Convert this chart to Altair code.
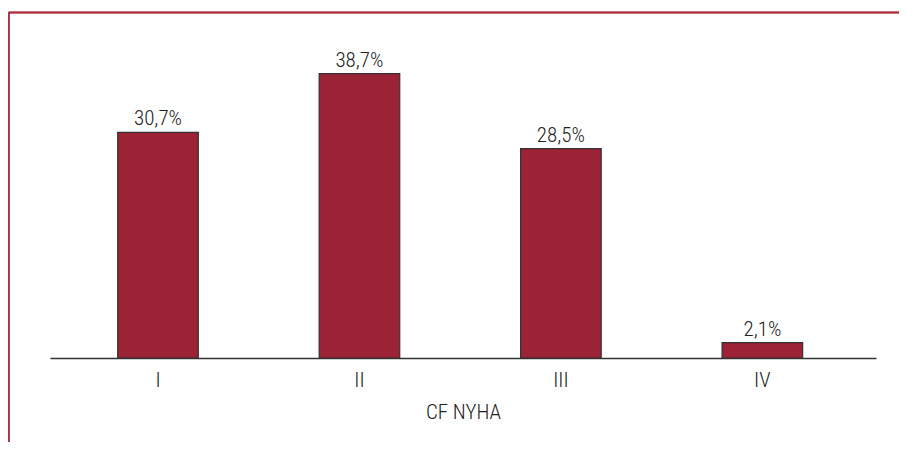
import altair as alt
import pandas as pd

categories = ["I", "II", "III", "IV"]
values = [30.7, 38.7, 28.5, 2.1]
labels = ["30,7%", "38,7%", "28,5%", "2,1%"]

df = pd.DataFrame({"cat": categories, "val": values, "lab": labels})

FONT = "Roboto Condensed, DejaVu Sans Condensed, Roboto, sans-serif"
FS = 21
FW = 300
W, H = 826, 294

xenc = alt.X("cat:N", sort=categories,
             scale=alt.Scale(paddingInner=0.6, paddingOuter=0.35, align=0.48),
             axis=alt.Axis(title="CF NYHA", labelAngle=0, ticks=False,
                           domainColor="#333333", domainWidth=1.5,
                           labelFont=FONT, labelFontSize=FS, labelColor="#222222",
                           labelFontWeight=FW,
                           labelPadding=11, titleFont=FONT, titleFontSize=FS,
                           titleFontWeight=FW, titleColor="#222222",
                           titlePadding=11))
yenc = alt.Y("val:Q", scale=alt.Scale(domain=[0, 40]), axis=None)

base = alt.Chart(df)
bars = base.mark_bar(color="#9c2236", stroke="#333333", strokeWidth=1.2).encode(x=xenc, y=yenc)
text = base.mark_text(font=FONT, fontSize=FS, fontWeight=FW, color="#222222",
                      baseline="alphabetic", dy=-7).encode(
    x=alt.X("cat:N", sort=categories), y="val:Q", text="lab:N")

frame_top = alt.Chart(df).mark_rule(color="#b0303f", strokeWidth=1.5).encode(
    x=alt.value(-41.3), x2=alt.value(849), y=alt.value(-51.5))
frame_left = alt.Chart(df).mark_rule(color="#b0303f", strokeWidth=1.5).encode(
    x=alt.value(-41.3), y=alt.value(-51.5), y2=alt.value(H + 84))

chart = alt.layer(bars, text, frame_top, frame_left).properties(
    width=W, height=H,
    autosize=alt.AutoSizeParams(type="none"),
    padding={"left": 42, "top": 56, "right": 23, "bottom": 84},
).configure_view(stroke=None)

chart.save("out.html", embed_options={"renderer": "svg", "actions": False})
